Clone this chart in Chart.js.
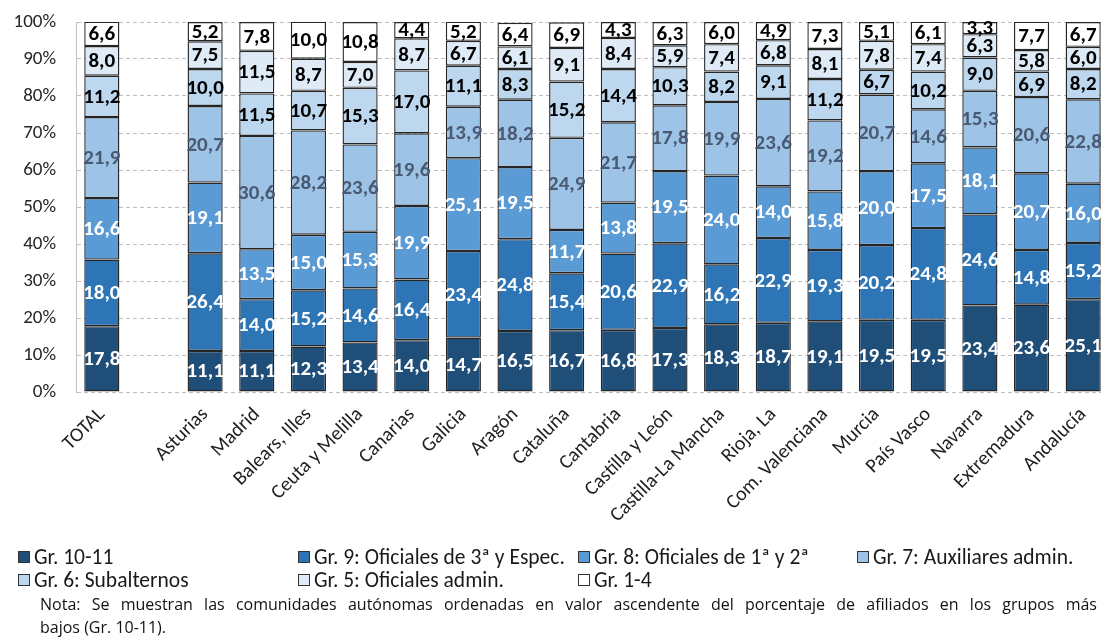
<!DOCTYPE html>
<html>
<head>
<meta charset="utf-8">
<script src="https://cdn.jsdelivr.net/npm/chart.js@4/dist/chart.umd.min.js"></script>
<style>
html, body { margin:0; padding:0; overflow:hidden; background:#fff; width:1101px; height:637px; }
#wrap { position:absolute; left:0; top:0; width:1110px; height:637px; }
.leg { position:absolute; font-family: Carlito, "Liberation Sans", Arial, sans-serif; font-size:21.5px; color:#1a1a1a; white-space:nowrap; line-height:22px; }
.leg i { display:inline-block; width:10px; height:10px; border:1px solid #333; margin-right:4px; vertical-align:1px; }
.note { position:absolute; left:40px; width:1057px; font-family: "Open Sans", sans-serif; font-size:16px; color:#111; line-height:20px; white-space:nowrap; }
</style>
</head>
<body>
<div id="wrap"><canvas id="c"></canvas></div>
<div id="legend"></div>
<div class="note" id="note1" style="top:594px;">Nota: Se muestran las comunidades autónomas ordenadas en valor ascendente del porcentaje de afiliados en los grupos más</div>
<div class="note" style="top:617px;">bajos (Gr. 10-11).</div>
<script>
const categories = ["TOTAL", "", "Asturias", "Madrid", "Balears, Illes", "Ceuta y Melilla", "Canarias", "Galicia", "Aragón", "Cataluña", "Cantabria", "Castilla y León", "Castilla-La Mancha", "Rioja, La", "Com. Valenciana", "Murcia", "País Vasco", "Navarra", "Extremadura", "Andalucía"];
const seriesNames = ["Gr. 10-11", "Gr. 9: Oficiales de 3ª y Espec.", "Gr. 8: Oficiales de 1ª y 2ª", "Gr. 7: Auxiliares admin.", "Gr. 6: Subalternos", "Gr. 5: Oficiales admin.", "Gr. 1-4"];
const gr10_11 = [17.8, null, 11.1, 11.1, 12.3, 13.4, 14.0, 14.7, 16.5, 16.7, 16.8, 17.3, 18.3, 18.7, 19.1, 19.5, 19.5, 23.4, 23.6, 25.1];
const gr9     = [18.0, null, 26.4, 14.0, 15.2, 14.6, 16.4, 23.4, 24.8, 15.4, 20.6, 22.9, 16.2, 22.9, 19.3, 20.2, 24.8, 24.6, 14.8, 15.2];
const gr8     = [16.6, null, 19.1, 13.5, 15.0, 15.3, 19.9, 25.1, 19.5, 11.7, 13.8, 19.5, 24.0, 14.0, 15.8, 20.0, 17.5, 18.1, 20.7, 16.0];
const gr7     = [21.9, null, 20.7, 30.6, 28.2, 23.6, 19.6, 13.9, 18.2, 24.9, 21.7, 17.8, 19.9, 23.6, 19.2, 20.7, 14.6, 15.3, 20.6, 22.8];
const gr6     = [11.2, null, 10.0, 11.5, 10.7, 15.3, 17.0, 11.1, 8.3, 15.2, 14.4, 10.3, 8.2, 9.1, 11.2, 6.7, 10.2, 9.0, 6.9, 8.2];
const gr5     = [8.0, null, 7.5, 11.5, 8.7, 7.0, 8.7, 6.7, 6.1, 9.1, 8.4, 5.9, 7.4, 6.8, 8.1, 7.8, 7.4, 6.3, 5.8, 6.0];
const gr1_4   = [6.6, null, 5.2, 7.8, 10.0, 10.8, 4.4, 5.2, 6.4, 6.9, 4.3, 6.3, 6.0, 4.9, 7.3, 5.1, 6.1, 3.3, 7.7, 6.7];
const yTicks = [0, 10, 20, 30, 40, 50, 60, 70, 80, 90, 100];

const seriesValues = [gr10_11, gr9, gr8, gr7, gr6, gr5, gr1_4];
const fills = ["#1F4E79", "#2E75B6", "#5B9BD5", "#9DC3E6", "#BDD7EE", "#DEEBF7", "#FFFFFF"];
const labelColors = ["#FFFFFF", "#FFFFFF", "#FFFFFF", "#4A5A72", "#000000", "#000000", "#000000"];

const datasets = seriesValues.map((vals, i) => ({
  label: seriesNames[i],
  data: vals,
  backgroundColor: fills[i],
  borderColor: "#262626",
  borderWidth: 1.4,
  borderSkipped: false,
  barPercentage: 0.68,
  categoryPercentage: 1.0
}));

const valueLabels = {
  id: "valueLabels",
  afterDatasetsDraw(chart) {
    const ctx = chart.ctx;
    ctx.save();
    ctx.font = "bold 21px Carlito, 'Liberation Sans', Arial, sans-serif";
    ctx.textAlign = "center";
    ctx.textBaseline = "middle";
    chart.data.datasets.forEach((ds, di) => {
      const meta = chart.getDatasetMeta(di);
      meta.data.forEach((el, i) => {
        const v = ds.data[i];
        if (v === null || v === undefined) return;
        const p = el.getProps(["x", "y", "base"], true);
        const cy = (p.y + p.base) / 2 + 1;
        ctx.fillStyle = labelColors[di];
        ctx.fillText(v.toFixed(1).replace(".", ","), p.x, cy);
      });
    });
    ctx.restore();
  }
};

new Chart(document.getElementById("c"), {
  type: "bar",
  data: { labels: categories, datasets },
  options: {
    responsive: true,
    maintainAspectRatio: false,
    animation: false,
    devicePixelRatio: 1,
    layout: { padding: { top: 22, right: 1, bottom: 0, left: 0 } },
    plugins: { legend: { display: false }, tooltip: { enabled: false } },
    scales: {
      x: {
        stacked: true,
        grid: { display: false, drawTicks: false },
        border: { display: false },
        ticks: {
          autoSkip: false, maxRotation: 45, minRotation: 45, padding: 11,
          color: "#1f1f1f",
          font: { family: "Carlito, 'Liberation Sans', Arial, sans-serif", size: 20 }
        },
        afterFit(scale) { scale.height = 245; scale.paddingLeft = 0; scale.paddingRight = 0; }
      },
      y: {
        stacked: true,
        min: 0, max: 100,
        afterBuildTicks(scale) { scale.ticks = yTicks.map(v => ({ value: v })); },
        grid: { color: "#bdbdbd", lineWidth: 1, drawTicks: false },
        border: { display: true, color: "#bfbfbf", width: 1, dash: [4, 3] },
        ticks: {
          padding: 20,
          color: "#262626",
          font: { family: "Carlito, 'Liberation Sans', Arial, sans-serif", size: 19 },
          callback: v => v + "%"
        },
        afterFit(scale) { scale.width = 76; scale.paddingTop = 0; scale.paddingBottom = 0; }
      }
    }
  },
  plugins: [valueLabels]
});

// HTML legend
const legPos = [[18, 546], [298, 546], [578, 546], [857, 546], [18, 569], [298, 569], [578, 569]];
const legend = document.getElementById("legend");
seriesNames.forEach((name, i) => {
  const d = document.createElement("div");
  d.className = "leg";
  d.style.left = legPos[i][0] + "px";
  d.style.top = legPos[i][1] + "px";
  d.innerHTML = '<i style="background:' + fills[i] + '"></i>' + name;
  legend.appendChild(d);
});

// justify first note line by spreading word gaps to fill its width
(function () {
  const el = document.getElementById("note1");
  const words = el.textContent.split(" ");
  const target = 1057;
  el.style.width = "auto";
  const natural = el.getBoundingClientRect().width;
  const extra = (target - natural) / (words.length - 1);
  el.style.wordSpacing = extra + "px";
})();
</script>
</body>
</html>
